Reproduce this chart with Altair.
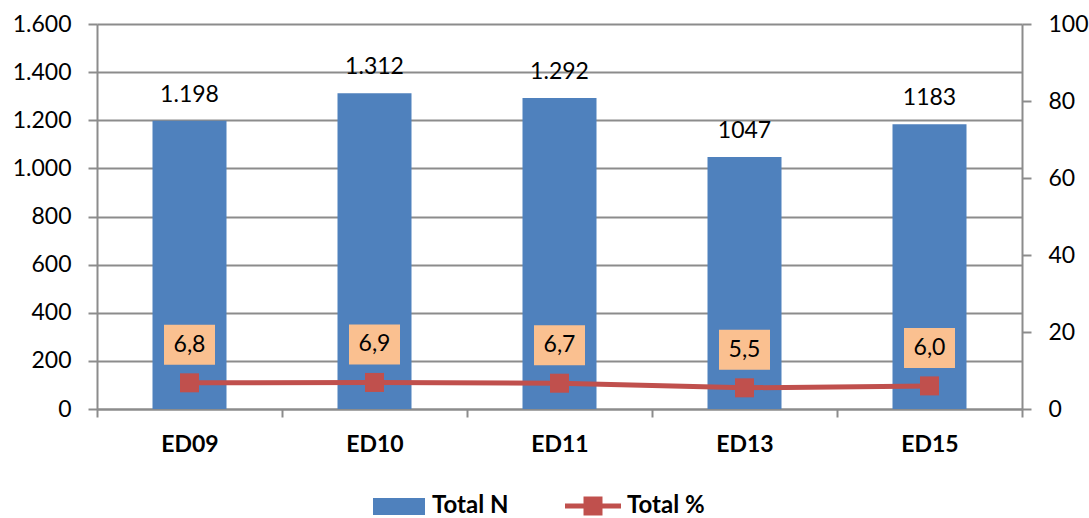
import altair as alt
import pandas as pd

# Data
categories = ["ED09", "ED10", "ED11", "ED13", "ED15"]
total_n = [1198, 1312, 1292, 1047, 1183]
total_n_labels = ["1.198", "1.312", "1.292", "1047", "1183"]
total_pct = [6.8, 6.9, 6.7, 5.5, 6.0]
series_names = ["Total N", "Total %"]
left_ticks = [0, 200, 400, 600, 800, 1000, 1200, 1400, 1600]
right_ticks = [0, 20, 40, 60, 80, 100]

df = pd.DataFrame({
    "cat": categories,
    "n": total_n,
    "n_label": total_n_labels,
    "pct": total_pct,
})

FONT = "Lato"
BLUE = "#4F81BD"
RED = "#C0504D"
PEACH = "#FAC090"
GRID = "#8C8C8C"
FS = 23

x_enc = alt.X(
    "cat:N", sort=categories, title=None,
    scale=alt.Scale(paddingInner=0, paddingOuter=0),
    axis=alt.Axis(
        labelFont=FONT, labelFontWeight="bold", labelFontSize=FS, labelColor="black",
        labelAngle=0, tickBand="extent", tickSize=8, tickColor=GRID, tickWidth=2,
        domainColor=GRID, domainWidth=2, labelPadding=16, grid=False,
    ),
)

y_left = alt.Y(
    "n:Q", title=None,
    scale=alt.Scale(domain=[0, 1600], nice=False, zero=True),
    axis=alt.Axis(
        orient="left", values=left_ticks,
        labelExpr="replace(format(datum.value, ',.0f'), ',', '.')",
        grid=True, gridColor=GRID, gridWidth=2,
        tickSize=9, tickColor=GRID, tickWidth=2,
        domainColor=GRID, domainWidth=2, labelPadding=17,
        labelFont=FONT, labelFontSize=FS, labelColor="black",
    ),
)

y_right = alt.Y(
    "pct:Q", title=None,
    scale=alt.Scale(domain=[0, 100], nice=False, zero=True),
    axis=alt.Axis(
        orient="right", values=right_ticks, grid=False,
        tickSize=9, tickColor=GRID, tickWidth=2,
        domainColor=GRID, domainWidth=2, labelPadding=17,
        labelFont=FONT, labelFontSize=FS, labelColor="black",
    ),
)

base = alt.Chart(df)

bars = base.mark_bar(size=74, color=BLUE).encode(x=x_enc, y=y_left)
bar_text = base.mark_text(
    dy=-26, font=FONT, fontSize=FS, color="black", baseline="middle"
).encode(x=x_enc, y=y_left, text="n_label:N")

left_group = alt.layer(bars, bar_text)

pct_base = base.transform_calculate(
    pct_label="replace(format(datum.pct, '.1f'), '.', ',')"
)
line = pct_base.mark_line(color=RED, strokeWidth=5).encode(x=x_enc, y=y_right)
points = pct_base.mark_square(size=361, color=RED, opacity=1, filled=True).encode(
    x=x_enc, y=y_right
)
boxes = pct_base.mark_rect(color=PEACH, width=51, height=40, yOffset=-38).encode(
    x=x_enc, y=y_right
)
box_text = pct_base.mark_text(
    dy=-38, font=FONT, fontSize=FS, color="black", baseline="middle"
).encode(x=x_enc, y=y_right, text="pct_label:N")

right_group = alt.layer(line, points, boxes, box_text)

# Legend drawn below the plot area
one = alt.Chart(pd.DataFrame({"k": [0]}))
leg_swatch = one.mark_rect(color=BLUE).encode(
    x=alt.value(276), x2=alt.value(328), y=alt.value(474), y2=alt.value(491)
)
leg_n = one.mark_text(
    align="left", baseline="middle", font=FONT, fontSize=24, fontWeight="bold", color="black"
).encode(x=alt.value(335), y=alt.value(482), text=alt.value(series_names[0]))
leg_line = one.mark_rule(color=RED, strokeWidth=5).encode(
    x=alt.value(468), x2=alt.value(524), y=alt.value(482)
)
leg_square = one.mark_square(size=361, color=RED, opacity=1, filled=True).encode(
    x=alt.value(496), y=alt.value(482)
)
leg_pct = one.mark_text(
    align="left", baseline="middle", font=FONT, fontSize=24, fontWeight="bold", color="black"
).encode(x=alt.value(530), y=alt.value(482), text=alt.value(series_names[1]))

chart = alt.layer(
    left_group, right_group, leg_swatch, leg_n, leg_line, leg_square, leg_pct
).resolve_scale(y="independent").properties(
    width=925, height=385,
    padding={"left": 97, "top": 24, "right": 67, "bottom": 109},
    autosize=alt.AutoSizeParams(type="none"),
    background="white",
).configure_view(stroke=None)

chart.save("out.html", embed_options={"renderer": "svg", "actions": False})
